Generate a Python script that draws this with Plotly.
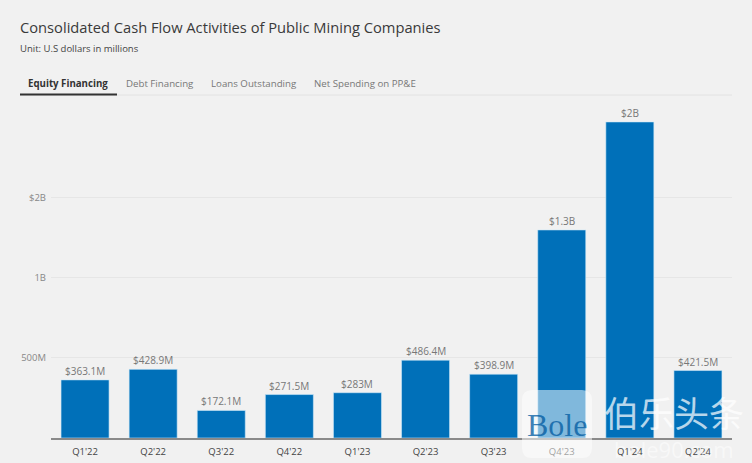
import plotly.graph_objects as go

categories = ["Q1'22", "Q2'22", "Q3'22", "Q4'22", "Q1'23", "Q2'23", "Q3'23", "Q4'23", "Q1'24", "Q2'24"]
values = [363.1, 428.9, 172.1, 271.5, 283, 486.4, 398.9, 1300, 1975, 421.5]
labels = ["$363.1M", "$428.9M", "$172.1M", "$271.5M", "$283M", "$486.4M", "$398.9M", "$1.3B", "$2B", "$421.5M"]
tick_vals = [500, 1000, 1500]
tick_text = ["500M", "1B", "$2B"]
tabs = [("Equity Financing", 26, True), ("Debt Financing", 124, False),
        ("Loans Outstanding", 209, False), ("Net Spending on PP&E", 312, False)]

W, H = 752, 463
L, R, T, B = 51, 20, 100, 25
FONT = "Open Sans"
px = lambda x: (x - L) / (W - L - R)
py = lambda y: 1 - (y - T) / (H - T - B)

fig = go.Figure(go.Bar(
    x=categories, y=values, cliponaxis=False,
    marker=dict(color="#0070b9", line=dict(color="#cfeaf8", width=0.6)), width=0.705,
))


def note(text, x, y, size, color, anchor="left", family=FONT, weight=None):
    return dict(text=f"<b>{text}</b>" if weight else text, x=px(x), y=py(y), xref="paper", yref="paper",
                xanchor=anchor, yanchor="middle", showarrow=False,
                font=dict(size=size, color=color, family=family))


annotations = [
    note("Consolidated Cash Flow Activities of Public Mining Companies", 18, 27, 14.7, "#3a3a3a"),
    note("Unit: U.S dollars in millions", 18, 48, 9.5, "#444444"),
]
for name, x, active in tabs:
    annotations.append(note(name, x, 83.5, 9.7, "#333333" if active else "#777777", weight=active))
for cat, val, lab in zip(categories, values, labels):
    annotations.append(dict(text=lab, x=cat, y=val, xref="x", yref="y", xanchor="center", yanchor="bottom",
                            showarrow=False, font=dict(size=10, color="#777777", family=FONT)))
annotations += [
    note("Bole", 557, 425, 32, "rgba(0,90,160,0.75)", "center", "Liberation Serif"),
    note("伯乐头条", 674, 411, 35, "rgba(255,255,255,0.72)", "center", "Noto Sans CJK SC"),
    note("bole90.com", 674, 449, 22, "rgba(255,255,255,0.5)", "center"),
]

x0, x1, y0, y1, r = 522, 592, 390, 458, 10
wm_path = (f"M {px(x0 + r)} {py(y0)} L {px(x1 - r)} {py(y0)} Q {px(x1)} {py(y0)} {px(x1)} {py(y0 + r)} "
           f"L {px(x1)} {py(y1 - r)} Q {px(x1)} {py(y1)} {px(x1 - r)} {py(y1)} "
           f"L {px(x0 + r)} {py(y1)} Q {px(x0)} {py(y1)} {px(x0)} {py(y1 - r)} "
           f"L {px(x0)} {py(y0 + r)} Q {px(x0)} {py(y0)} {px(x0 + r)} {py(y0)} Z")

shapes = [
    dict(type="line", xref="paper", yref="paper", x0=px(20), x1=px(732), y0=py(95), y1=py(95),
         line=dict(color="#e2e2e2", width=1)),
    dict(type="line", xref="paper", yref="paper", x0=px(20), x1=px(117), y0=py(94.5), y1=py(94.5),
         line=dict(color="#333333", width=2)),
    dict(type="path", xref="paper", yref="paper", path=wm_path,
         fillcolor="rgba(255,255,255,0.5)", line=dict(width=0), layer="above"),
]

fig.update_layout(
    width=W, height=H, margin=dict(l=L, r=R, t=T, b=B), autosize=False,
    paper_bgcolor="#f1f1f1", plot_bgcolor="#f1f1f1", showlegend=False,
    font=dict(family=FONT), annotations=annotations, shapes=shapes,
    xaxis=dict(type="category", range=[-0.5, 9.5], showline=True, linecolor="#8a8a8a", linewidth=2,
               ticks="", showgrid=False, ticklabelstandoff=4, automargin=False,
               tickfont=dict(size=9.5, color="#444444", family=FONT)),
    yaxis=dict(range=[0, 2112], tickvals=tick_vals, ticktext=tick_text, showgrid=True,
               gridcolor="#e6e6e6", gridwidth=1, zeroline=False, ticks="", ticklen=0, ticklabelstandoff=4,
               automargin=False, tickfont=dict(size=9.5, color="#888888", family=FONT)),
)
fig.write_html("out.html", config={"displayModeBar": False},
               post_script="document.body.style.margin='0';document.body.style.overflow='hidden';")
